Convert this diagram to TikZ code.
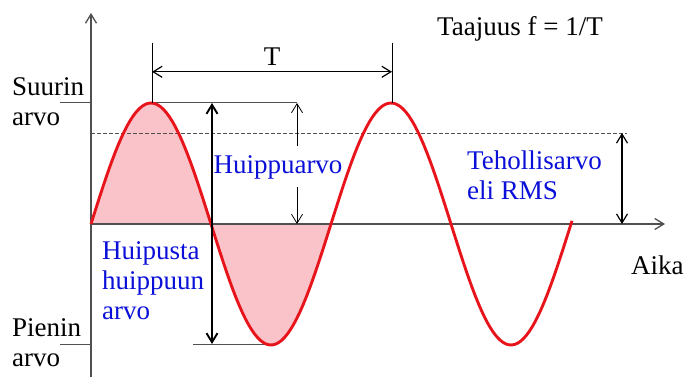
\documentclass[tikz,border=0pt]{standalone}
\usepackage{fontspec}
\setmainfont{Liberation Serif}
\usepackage{tikz}
\usetikzlibrary{arrows.meta,positioning,calc}
\definecolor{wave}{HTML}{E8141B}
\definecolor{wavefill}{HTML}{F9C3C9}
\definecolor{note}{HTML}{0A10D8}
\definecolor{axisgray}{HTML}{505050}

\begin{document}
\begin{tikzpicture}[
  x=1pt,y=-1pt,
  >={Straight Barb[length=9pt,width=11pt]},
  every node/.style={font=\fontsize{27}{30}\selectfont,align=left,inner sep=0pt},
  caption/.style={text=black},
  remark/.style={text=note},
  axis/.style={axisgray,line width=1.3pt},
  guide/.style={axisgray,line width=1pt},
  measure/.style={<->,black,line width=1.2pt},
  bigmeasure/.style={<->,black,line width=1.9pt}
]
  \useasboundingbox (0,0) rectangle (686,377);

  % Key points of the wave, read in picture units.
  \coordinate (origin) at (91,224);
  \coordinate (peakA) at (152,103);
  \coordinate (peakB) at (392,103);
  \coordinate (troughA) at (272,344);

  % Shaded first period under the wave.
  \fill[wavefill] (origin) -- plot[domain=91:331,samples=80] (\x,{224-121*sin((\x-91)*1.5)}) -- cycle;

  % Axes.
  \coordinate (ytop) at (91,13);
  \coordinate (ybottom) at (91,377);
  \coordinate (xend) at (665,224);
  \draw[axis,->] (ybottom) -- (ytop);
  \draw[axis,->] (origin) -- (xend);

  % Effective value level.
  \coordinate (rmsleft) at (91,133);
  \coordinate (rmsright) at (627,133);
  \draw[guide,dash pattern=on 3.5pt off 2.5pt,line width=0.8pt] (rmsleft) -- (rmsright);

  % Level lines at the extremes.
  \coordinate (maxtick) at (60,103);
  \coordinate (mintick) at (60,344);
  \coordinate (peakend) at (297,103);
  \coordinate (minstart) at (193,344);
  \draw[guide] (maxtick) -- (origin |- maxtick);
  \draw[guide] (mintick) -- (origin |- mintick);
  \draw[guide] (peakA) -- (peakend);
  \draw[guide] (minstart) -- (troughA);

  % The wave itself.
  \draw[wave,line width=2.9pt] plot[domain=91:572,samples=160] (\x,{224-121*sin((\x-91)*1.5)});

  % Period marker.
  \coordinate (TA) at (152,43);
  \coordinate (TB) at (392,43);
  \draw[black,line width=1pt] (TA) -- (peakA);
  \draw[black,line width=1pt] (TB) -- (peakB);
  \draw[measure] ($(TA)!0.48!(peakA)$) -- ($(TB)!0.48!(peakB)$);
  \node[caption] (period) at (272,57) {T};
  \node[caption] (freq) at (520,29) {Taajuus f = 1/T};

  % Level labels on the left.
  \node[caption,anchor=west] (maxlabel) at (12,102) {Suurin\\arvo};
  \node[caption,anchor=west] (minlabel) at (12,343) {Pienin\\arvo};

  % Peak-to-peak arrow.
  \coordinate (pptop) at (212,103);
  \coordinate (ppbottom) at (212,344);
  \draw[bigmeasure] (pptop) -- (ppbottom);
  \node[remark,anchor=west] (pplabel) at (102,281) {Huipusta\\huippuun\\arvo};

  % Peak value arrow, split by its label.
  \node[remark] (peaklabel) at (278,167) {Huippuarvo};
  \coordinate (pvbottom) at (297,224);
  \coordinate (pvgaptop) at (297,146);
  \coordinate (pvgapbottom) at (297,187);
  \draw[->,black,line width=0.8pt] (pvgaptop) -- (peakend);
  \draw[->,black,line width=0.8pt] (pvgapbottom) -- (pvbottom);

  % Effective value arrow.
  \coordinate (rmstop) at (622,133);
  \coordinate (rmsbottom) at (622,224);
  \draw[measure] (rmstop) -- (rmsbottom);
  \node[remark,anchor=west] (rmslabel) at (467,175) {Tehollisarvo\\eli RMS};

  \node[caption,anchor=west] (timelabel) at (631,265) {Aika};
\end{tikzpicture}
\end{document}
